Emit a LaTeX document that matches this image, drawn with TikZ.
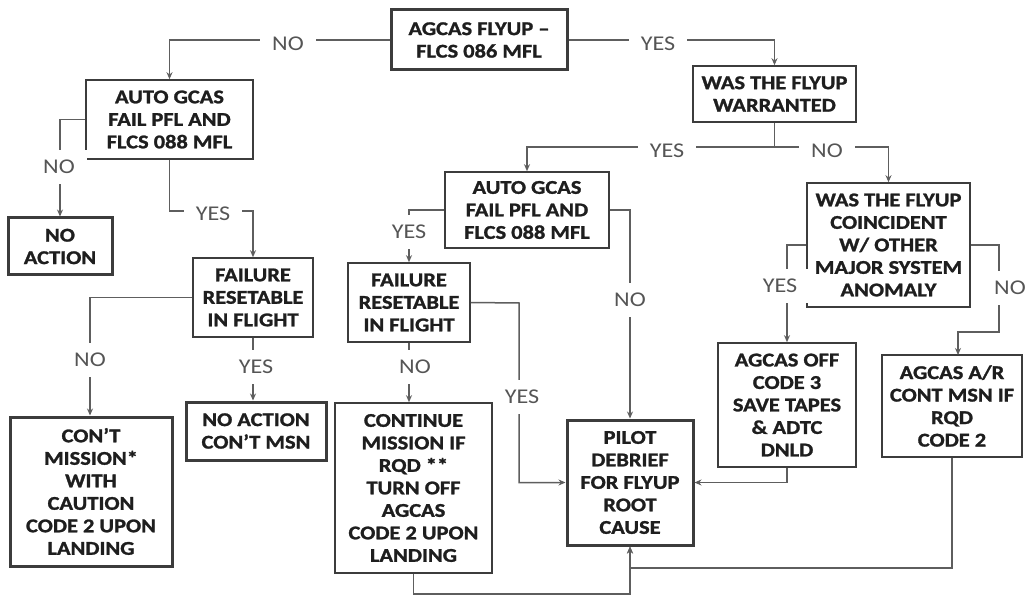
\documentclass[tikz,border=0pt]{standalone}
\usepackage{fontspec}
\setmainfont{Carlito}[FakeStretch=1.15, BoldFeatures={FakeBold=1.3}]
\usetikzlibrary{arrows.meta}
\definecolor{ln}{HTML}{5E5E5E}
\definecolor{bd}{HTML}{3C3C3C}
\definecolor{tx}{HTML}{1E1E1E}
\definecolor{lb}{HTML}{555555}
\begin{document}
\begin{tikzpicture}[x=1pt,y=-1pt,
  box/.style={draw=bd, line width=1.6pt, align=center, inner sep=0pt, text=tx,
    font=\fontsize{19.5}{22.5}\selectfont\bfseries},
  tbox/.style={box, line width=3pt},
  lab/.style={fill=white, inner xsep=12pt, inner ysep=10pt, text=lb,
    font=\fontsize{21}{21}\selectfont},
  con/.style={draw=ln, line width=1.5pt},
  arr/.style={con, -{Stealth[length=7pt,width=6pt]}}]
\useasboundingbox[fill=white] (0,0) rectangle (1034,596);

% boxes
\node[tbox, minimum width=176pt, minimum height=60pt] (top) at (479,40) {AGCAS FLYUP –\\FLCS 086 MFL};
\node[box, minimum width=167pt, minimum height=79pt] (ag1) at (169.5,119.5) {AUTO GCAS\\FAIL PFL AND\\FLCS 088 MFL};
\node[tbox, minimum width=104pt, minimum height=57pt] (na1) at (60,246.5) {NO\\ACTION};
\node[box, minimum width=120pt, minimum height=79pt] (fr1) at (253,297.5) {FAILURE\\RESETABLE\\IN FLIGHT};
\node[tbox, minimum width=162pt, minimum height=149pt] (ct1) at (91,491.5) {CON'T\\MISSION*\\WITH\\CAUTION\\CODE 2 UPON\\LANDING};
\node[tbox, minimum width=140pt, minimum height=58pt] (na2) at (256,431) {NO ACTION\\CON'T MSN};
\node[box, minimum width=163pt, minimum height=56pt] (warr) at (774.5,94) {WAS THE FLYUP\\WARRANTED};
\node[box, minimum width=164pt, minimum height=76pt] (ag2) at (527,210) {AUTO GCAS\\FAIL PFL AND\\FLCS 088 MFL};
\node[box, minimum width=122pt, minimum height=79pt] (fr2) at (409,302.5) {FAILURE\\RESETABLE\\IN FLIGHT};
\node[box, minimum width=157pt, minimum height=170pt] (ct2) at (413.5,488) {CONTINUE\\MISSION IF\\RQD **\\TURN OFF\\AGCAS\\CODE 2 UPON\\LANDING};
\node[tbox, minimum width=126pt, minimum height=125pt] (pil) at (630,482.5) {PILOT\\DEBRIEF\\FOR FLYUP\\ROOT\\CAUSE};
\node[box, minimum width=163pt, minimum height=124pt] (coin) at (888.5,245) {WAS THE FLYUP\\COINCIDENT\\W/ OTHER\\MAJOR SYSTEM\\ANOMALY};
\node[box, minimum width=138pt, minimum height=124pt] (off) at (787,405) {AGCAS OFF\\CODE 3\\SAVE TAPES\\\& ADTC\\DNLD};
\node[box, minimum width=140pt, minimum height=102pt] (ar) at (952,406) {AGCAS A/R\\CONT MSN IF\\RQD\\CODE 2};

% connectors
\draw[arr] (top.west) -| (ag1.north);
\draw[arr] (ag1.west) -| (na1.north);
\draw[arr] (ag1.south) -- ++(0,51) -| (fr1.north);
\draw[arr] (fr1.west) -| ([xshift=-1pt]ct1.north);
\draw[arr] (fr1.south) -- (fr1.south |- na2.north);
\draw[arr] (top.east) -| (warr.north);
\coordinate (wj) at (774.5,147);
\draw[con] (warr.south) -- (wj);
\draw[arr] (wj) -| (ag2.north);
\draw[arr] (wj) -| (coin.north);
\draw[arr] (ag2.west) -| (fr2.north);
\draw[arr] (ag2.east) -| (pil.north);
\draw[arr] (fr2.east) -- (519,303) |- (pil.west);
\draw[arr] (fr2.south) -- (fr2.south |- ct2.north);
\draw[arr] (ct2.south) -- ++(0,20) -| (pil.south);
\draw[arr] (ar.south) -- ++(0,110) -| (pil.south);
\draw[arr] (coin.west) -| (off.north);
\draw[arr] (coin.east) -- (999,245) |- (958,332) -- (958,355);
\draw[arr] (off.south) |- (pil.east);

% labels
\node[lab] (l1) at (288,44) {NO};
\node[lab] (l2) at (59,167) {NO};
\node[lab] (l3) at (213,214) {YES};
\node[lab] (l4) at (90,360) {NO};
\node[lab] (l5) at (256,367) {YES};
\node[lab] (l6) at (658,44) {YES};
\node[lab] (l7) at (667,151) {YES};
\node[lab] (l8) at (827,151) {NO};
\node[lab] (l9) at (409,232) {YES};
\node[lab] (l10) at (630,300) {NO};
\node[lab] (l11) at (522,397) {YES};
\node[lab] (l12) at (415,367) {NO};
\node[lab] (l13) at (780,286) {YES};
\node[lab] (l14) at (1010,288) {NO};
\end{tikzpicture}
\end{document}
